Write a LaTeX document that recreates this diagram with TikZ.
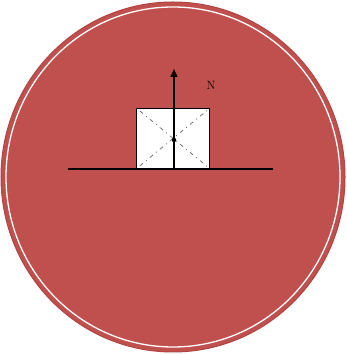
\documentclass[tikz,border=0pt]{standalone}
\usetikzlibrary{arrows.meta}
\definecolor{disk}{HTML}{C0504D}
\definecolor{diskedge}{HTML}{B04542}
\tikzset{
  diag/.style={draw=black!60, line width=0.7pt, dash pattern=on 1pt off 4pt on 4pt off 4pt},
  solid line/.style={draw=black, line width=1.2pt},
}
\begin{document}
\begin{tikzpicture}[x=1pt,y=1pt]
\useasboundingbox (0,0) rectangle (346,355);
\fill[white] (0,0) rectangle (346,355);
\fill[disk, draw=diskedge, line width=1pt] (173,178) ellipse [x radius=172, y radius=175];
\draw[white, line width=1.3pt] (173,178) ellipse [x radius=167, y radius=170];
\node[draw=black, line width=1.2pt, fill=white, minimum width=73pt, minimum height=60pt, inner sep=0pt, anchor=south west] (box) at (136,186) {};
\draw[diag] (box.south west) -- (box.north east);
\draw[diag] (box.north west) -- (box.south east);
\coordinate (gl) at (68,186);
\coordinate (gr) at (273,186);
\draw[solid line] (gl) -- (gr);
\coordinate (base) at (174,186);
\coordinate (tip) at (174,286);
\draw[solid line, -{Triangle[length=8pt,width=7pt]}] (base) -- (tip);
\fill[black] (174,215) circle (2.2pt) coordinate (cg);
\node[font=\fontsize{12}{14}\selectfont] (N) at (211,270) {N};
\end{tikzpicture}
\end{document}
